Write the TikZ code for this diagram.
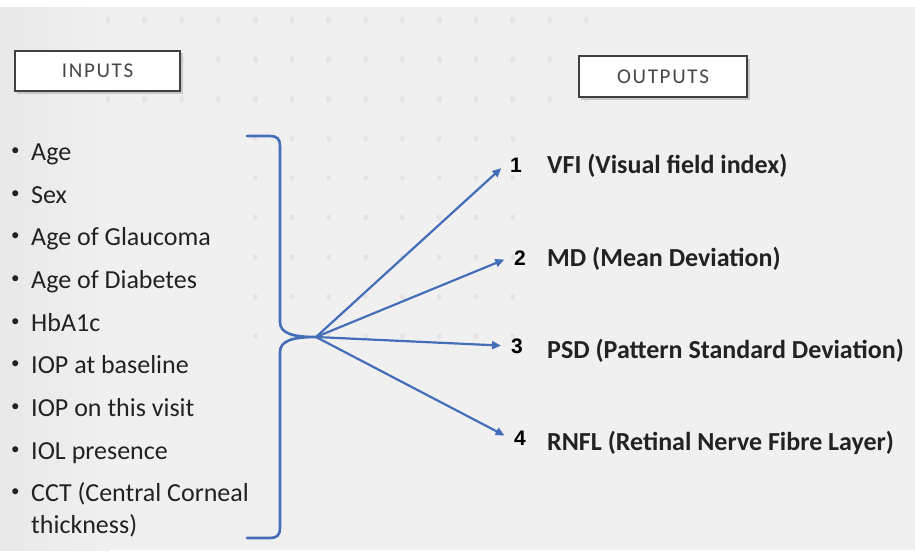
\documentclass[tikz,border=0pt]{standalone}
\usepackage{fontspec}
\setmainfont{Carlito}
\newfontfamily\numfont{Liberation Sans}
\usetikzlibrary{arrows.meta}

\definecolor{bgcol}{RGB}{240,240,240}
\definecolor{dotcol}{RGB}{228,228,228}
\definecolor{linkblue}{RGB}{68,110,184}
\definecolor{inktext}{RGB}{34,34,34}

\tikzset{
  hdrbox/.style={draw=black!75, line width=1.8pt, fill=white,
    minimum width=165pt, minimum height=40pt, inner sep=0pt,
    font=\fontsize{21}{24}\selectfont\addfontfeature{LetterSpace=8}, text=black!72},
  hdrshadow/.style={fill=black!22},
  initem/.style={anchor=base west, inner sep=0pt,
    font=\fontsize{26}{32}\selectfont, text=inktext},
  outitem/.style={anchor=base west, inner sep=0pt,
    font=\fontsize{26}{30}\selectfont\bfseries, text=inktext},
  numlbl/.style={anchor=base, inner xsep=5pt, inner ysep=1pt,
    font=\fontsize{21}{24}\selectfont\numfont\bfseries, text=black},
  link/.style={draw=linkblue, line width=2.2pt,
    -{Triangle[length=9pt,width=8pt]}, shorten >=5pt},
  bracket/.style={draw=linkblue, line width=2.6pt, line cap=round, line join=round},
  bgdot/.style={fill=dotcol}
}

% small raised bullet followed by the item text
\newcommand{\bul}{\makebox[20pt][l]{\raisebox{5pt}{\fontsize{17}{17}\selectfont\textbullet}}}

\begin{document}
\begin{tikzpicture}[x=1pt,y=-1pt]
  \useasboundingbox (0,0) rectangle (915,550);

  % background
  \fill[bgcol] (0,0) rectangle (915,550);
  \shade[left color=black!9, right color=bgcol] (0,7) rectangle (110,550);
  \fill[white] (0,0) rectangle (915,7);

  % faint dot grid
  \foreach \r in {0,...,2}
    \foreach \c in {0,...,13}
      \fill[bgdot] (108+36.8*\c, 20+39.5*\r) ellipse (2.6pt and 3.6pt);
  \foreach \r in {3,...,8}
    \foreach \c in {4,...,11}
      \fill[bgdot] (108+36.8*\c, 20+39.5*\r) ellipse (2.4pt and 3pt);

  % header shadows and headers
  \fill[hdrshadow] (17,53) rectangle (182.5,93.5);
  \fill[hdrshadow] (581,58.5) rectangle (749.5,99.5);
  \node[hdrbox] (inhdr) at (97.5,71) {INPUTS};
  \node[hdrbox, minimum width=168pt, minimum height=41pt] (outhdr) at (663,76.5) {OUTPUTS};

  % input list
  \node[initem] (i1) at (11,160.5) {\bul Age};
  \node[initem] (i2) at (11,203.2) {\bul Sex};
  \node[initem] (i3) at (11,245.8) {\bul Age of Glaucoma};
  \node[initem] (i4) at (11,288.5) {\bul Age of Diabetes};
  \node[initem] (i5) at (11,331.1) {\bul HbA1c};
  \node[initem] (i6) at (11,373.8) {\bul IOP at baseline};
  \node[initem] (i7) at (11,416.4) {\bul IOP on this visit};
  \node[initem] (i8) at (11,459.1) {\bul IOL presence};
  \node[initem] (i9) at (11,501.7)
    {\begin{tabular}[t]{@{}l@{}}\bul CCT (Central Corneal\\\hspace*{20pt}thickness)\end{tabular}};

  % bracket gathering the inputs
  \coordinate (tip) at (316,337);
  \draw[bracket] (247,136) -- (270,136)
    .. controls (277,136) and (280,139) .. (280,146) -- (280,322)
    .. controls (280,333) and (292,337) .. (tip)
    .. controls (292,337) and (280,341) .. (280,352) -- (280,528)
    .. controls (280,535) and (277,538) .. (270,538) -- (247,538);

  % output numbers and labels
  \node[numlbl] (n1) at (516,172) {1};
  \node[numlbl] (n2) at (520,265) {2};
  \node[numlbl] (n3) at (517,353) {3};
  \node[numlbl] (n4) at (520,445) {4};

  \node[outitem] (o1) at (547,173.3) {VFI (Visual field index)};
  \node[outitem] (o2) at (547,266) {MD (Mean Deviation)};
  \node[outitem] (o3) at (547,358.3) {PSD (Pattern Standard Deviation)};
  \node[outitem] (o4) at (547,450) {RNFL (Retinal Nerve Fibre Layer)};

  % arrows
  \draw[link] (tip) -- (n1.west);
  \draw[link] (tip) -- (n2.west);
  \draw[link] (tip) -- (n3.west);
  \draw[link] (tip) -- (n4.west);
\end{tikzpicture}
\end{document}
